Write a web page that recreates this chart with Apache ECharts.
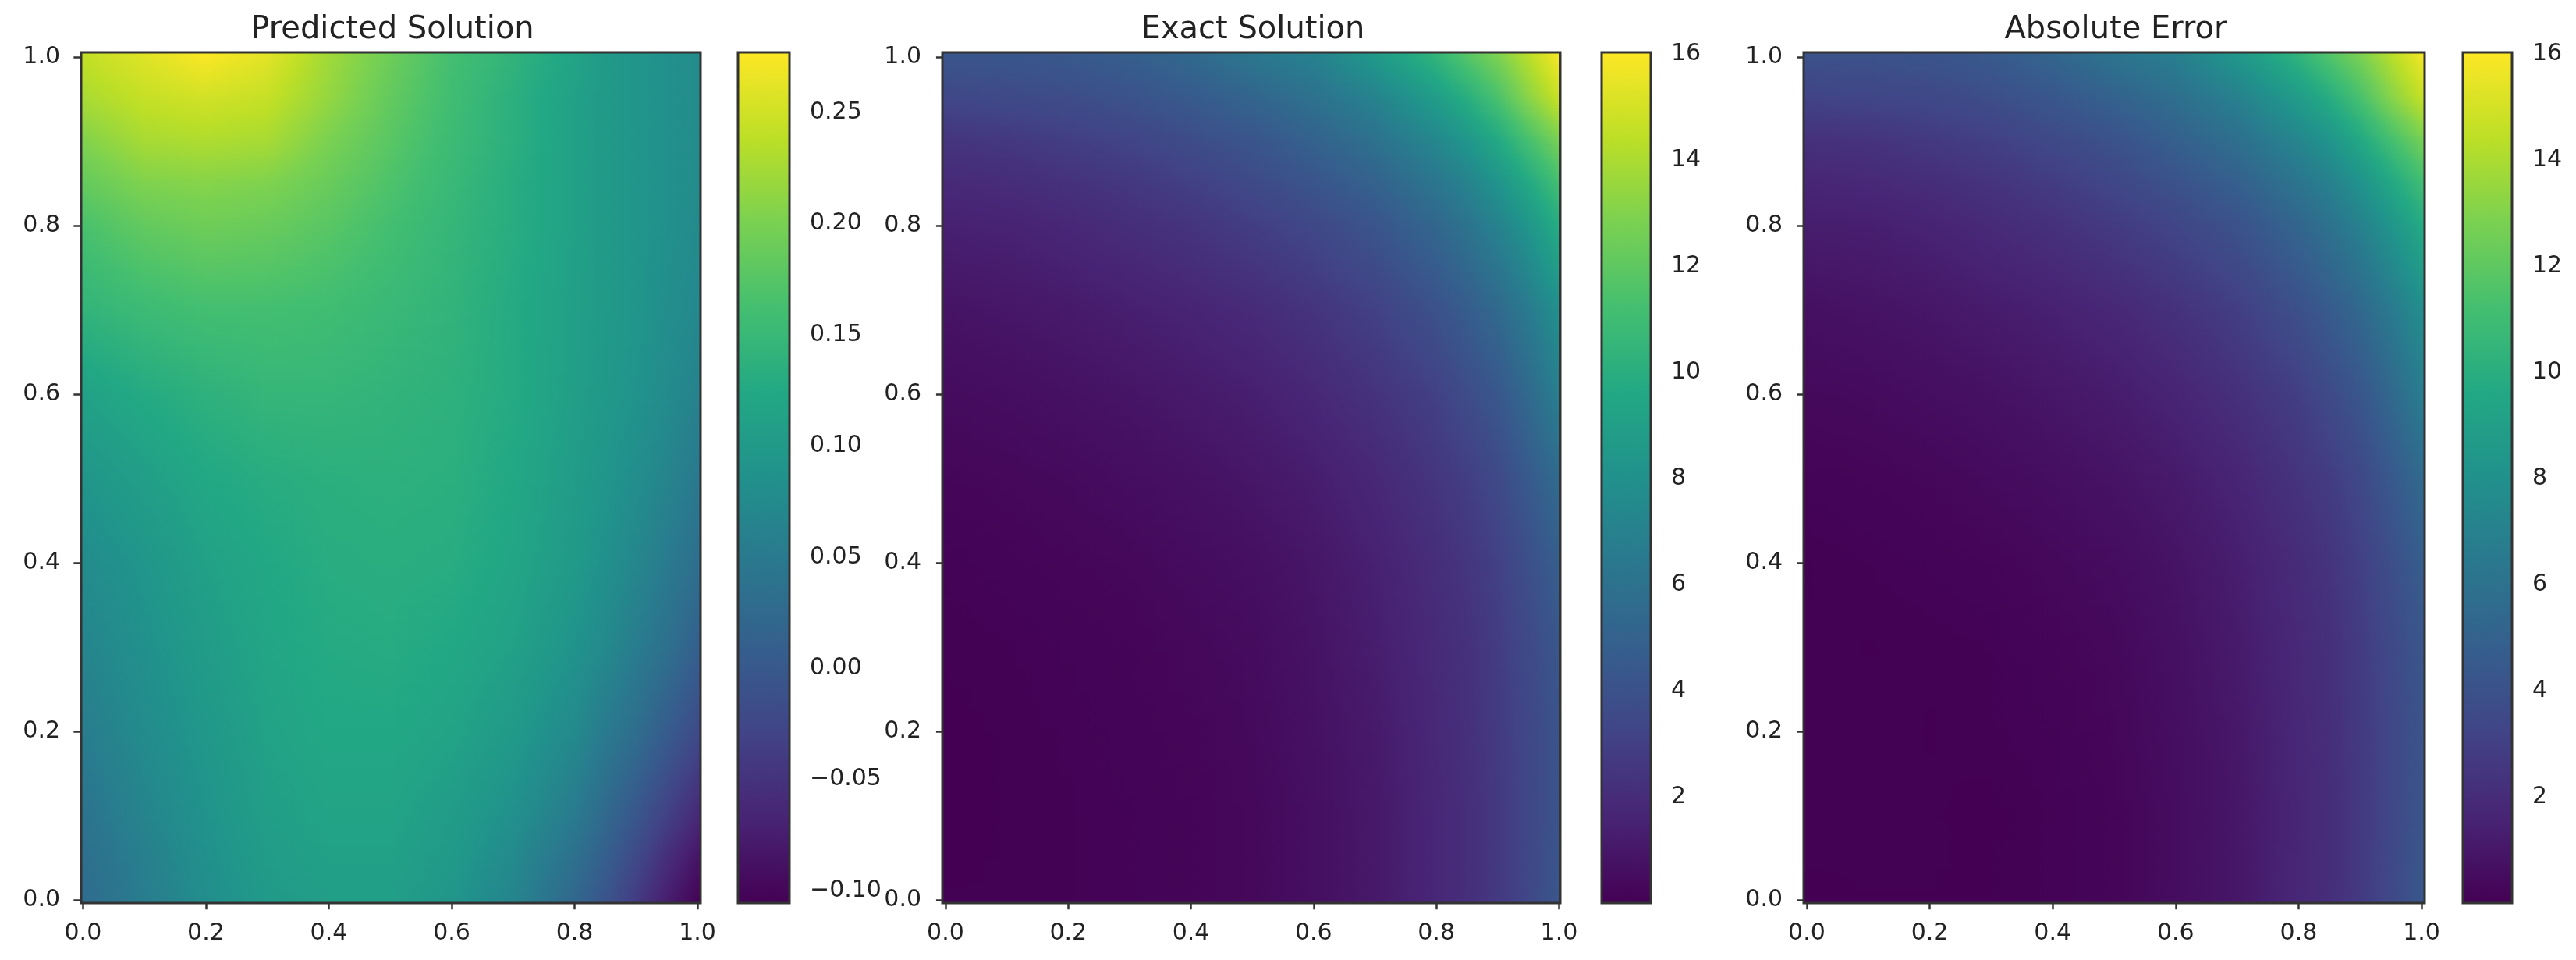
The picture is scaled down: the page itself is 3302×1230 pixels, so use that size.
<!DOCTYPE html>
<html>
<head>
<meta charset="utf-8">
<title>Predicted / Exact / Absolute Error</title>
<script src="https://cdn.jsdelivr.net/npm/echarts@6/dist/echarts.min.js"></script>
<style>
  html, body { margin: 0; padding: 0; background: #fff; }
  #chart { width: 3302px; height: 1230px; }
</style>
</head>
<body>
<div id="chart"></div>
<script>
// sample positions (denser near the steep corners)
const nodesX = [0, 0.1, 0.2, 0.3, 0.4, 0.5, 0.6, 0.7, 0.8, 0.85, 0.9, 0.95, 1];
const nodesY = [1, 0.95, 0.9, 0.85, 0.8, 0.7, 0.6, 0.5, 0.4, 0.3, 0.2, 0.1, 0.05, 0];

const axisTicks = [0, 0.2, 0.4, 0.6, 0.8, 1];
const predictedTicks = [-0.1, -0.05, 0, 0.05, 0.1, 0.15, 0.2, 0.25];
const solutionTicks = [2, 4, 6, 8, 10, 12, 14, 16];

const titles = ["Predicted Solution", "Exact Solution", "Absolute Error"];

const viridis = ["#440154", "#482475", "#414487", "#355f8d", "#2a788e", "#21918c", "#22a884", "#44bf70", "#7ad151", "#bddf26", "#fde725"];

// one row per nodesY, one column per nodesX
const predicted = [
  [0.242, 0.260, 0.277, 0.262, 0.223, 0.192, 0.161, 0.142, 0.116, 0.100, 0.093, 0.085, 0.077],
  [0.226, 0.243, 0.250, 0.243, 0.215, 0.184, 0.158, 0.135, 0.112, 0.100, 0.093, 0.085, 0.077],
  [0.203, 0.226, 0.230, 0.226, 0.200, 0.177, 0.154, 0.135, 0.112, 0.100, 0.093, 0.085, 0.077],
  [0.184, 0.203, 0.207, 0.203, 0.188, 0.169, 0.150, 0.131, 0.112, 0.100, 0.093, 0.085, 0.077],
  [0.165, 0.184, 0.192, 0.188, 0.177, 0.161, 0.146, 0.131, 0.112, 0.100, 0.093, 0.085, 0.075],
  [0.142, 0.154, 0.161, 0.161, 0.158, 0.150, 0.142, 0.127, 0.110, 0.100, 0.093, 0.081, 0.072],
  [0.112, 0.127, 0.138, 0.146, 0.146, 0.142, 0.138, 0.127, 0.108, 0.098, 0.089, 0.077, 0.062],
  [0.093, 0.108, 0.123, 0.131, 0.135, 0.137, 0.135, 0.123, 0.104, 0.093, 0.081, 0.066, 0.047],
  [0.077, 0.093, 0.112, 0.123, 0.131, 0.133, 0.131, 0.119, 0.100, 0.085, 0.070, 0.051, 0.032],
  [0.066, 0.085, 0.104, 0.119, 0.127, 0.129, 0.123, 0.112, 0.089, 0.074, 0.054, 0.035, 0.009],
  [0.054, 0.077, 0.096, 0.114, 0.123, 0.123, 0.116, 0.100, 0.074, 0.051, 0.032, 0.005, -0.022],
  [0.039, 0.066, 0.089, 0.108, 0.116, 0.116, 0.104, 0.085, 0.051, 0.024, -0.003, -0.033, -0.064],
  [0.032, 0.058, 0.085, 0.104, 0.112, 0.112, 0.100, 0.074, 0.035, 0.009, -0.022, -0.056, -0.087],
  [0.028, 0.054, 0.081, 0.100, 0.108, 0.108, 0.093, 0.066, 0.020, -0.007, -0.041, -0.075, -0.106]
];

const exact = [
  [4.32, 4.32, 4.48, 4.8, 5.44, 6.4, 7.04, 8.64, 10.56, 11.84, 12.96, 14.4, 16.0],
  [3.36, 3.52, 3.68, 4.0, 4.48, 5.12, 5.92, 7.04, 8.8, 9.92, 11.36, 13.12, 14.72],
  [2.4, 2.56, 2.88, 3.2, 3.68, 4.16, 4.96, 5.92, 7.36, 8.32, 9.6, 11.2, 12.8],
  [1.84, 2.0, 2.24, 2.56, 2.96, 3.52, 4.16, 4.96, 6.24, 7.04, 8.16, 9.6, 11.2],
  [1.44, 1.52, 1.76, 2.08, 2.4, 2.88, 3.44, 4.16, 5.28, 6.08, 7.04, 8.32, 9.92],
  [0.8, 0.96, 1.12, 1.36, 1.6, 1.92, 2.4, 3.04, 4.0, 4.64, 5.44, 6.56, 8.0],
  [0.48, 0.56, 0.72, 0.88, 1.12, 1.36, 1.76, 2.32, 3.04, 3.68, 4.32, 5.44, 6.88],
  [0.24, 0.32, 0.4, 0.56, 0.72, 0.96, 1.28, 1.76, 2.48, 2.88, 3.52, 4.48, 5.6],
  [0.08, 0.16, 0.24, 0.32, 0.48, 0.64, 0.96, 1.44, 2.08, 2.48, 3.04, 3.84, 4.8],
  [0.03, 0.06, 0.13, 0.19, 0.32, 0.48, 0.8, 1.28, 1.92, 2.24, 2.8, 3.52, 4.32],
  [0, 0.03, 0.08, 0.16, 0.24, 0.4, 0.72, 1.12, 1.84, 2.16, 2.72, 3.36, 4.16],
  [0, 0.03, 0.06, 0.11, 0.19, 0.32, 0.64, 1.04, 1.76, 2.08, 2.64, 3.36, 4.16],
  [0, 0.03, 0.06, 0.11, 0.19, 0.32, 0.64, 1.04, 1.76, 2.08, 2.64, 3.36, 4.24],
  [0.03, 0.03, 0.06, 0.11, 0.19, 0.32, 0.64, 1.04, 1.76, 2.08, 2.64, 3.36, 4.32]
];

const absError = [
  [4.08, 4.06, 4.2, 4.53, 5.22, 6.21, 6.88, 8.5, 10.44, 11.74, 12.87, 14.32, 15.92],
  [3.13, 3.27, 3.42, 3.75, 4.27, 4.94, 5.76, 6.91, 8.69, 9.82, 11.27, 13.04, 14.64],
  [2.2, 2.33, 2.65, 2.97, 3.48, 3.98, 4.81, 5.79, 7.25, 8.22, 9.51, 11.12, 12.72],
  [1.66, 1.8, 2.03, 2.36, 2.77, 3.35, 4.01, 4.83, 6.13, 6.94, 8.07, 9.52, 11.12],
  [1.28, 1.34, 1.57, 1.89, 2.22, 2.72, 3.29, 4.03, 5.17, 5.98, 6.95, 8.24, 9.85],
  [0.66, 0.81, 0.96, 1.2, 1.44, 1.77, 2.26, 2.91, 3.89, 4.54, 5.35, 6.48, 7.93],
  [0.37, 0.43, 0.58, 0.73, 0.97, 1.22, 1.62, 2.19, 2.93, 3.58, 4.23, 5.36, 6.82],
  [0.15, 0.21, 0.28, 0.43, 0.59, 0.82, 1.15, 1.64, 2.38, 2.79, 3.44, 4.41, 5.55],
  [0.01, 0.07, 0.13, 0.2, 0.35, 0.51, 0.83, 1.32, 1.98, 2.4, 2.97, 3.79, 4.77],
  [0.04, 0.02, 0.03, 0.07, 0.19, 0.35, 0.68, 1.17, 1.83, 2.17, 2.75, 3.49, 4.31],
  [0.05, 0.05, 0.02, 0.05, 0.12, 0.28, 0.6, 1.02, 1.77, 2.11, 2.69, 3.36, 4.18],
  [0.04, 0.04, 0.03, 0, 0.07, 0.2, 0.54, 0.96, 1.71, 2.06, 2.64, 3.39, 4.22],
  [0.03, 0.03, 0.03, 0.01, 0.08, 0.21, 0.54, 0.97, 1.73, 2.07, 2.66, 3.42, 4.33],
  [0, 0.02, 0.02, 0.01, 0.08, 0.21, 0.55, 0.97, 1.74, 2.09, 2.68, 3.44, 4.43]
];

const panels = [
  { z: predicted, vmin: -0.1056, vmax: 0.277, ticks: predictedTicks, digits: 2, left: 104, right: 898, xMin: -0.003, xMax: 1.005, barLeft: 946, barRight: 1012 },
  { z: exact, vmin: 0, vmax: 16.03, ticks: solutionTicks, digits: 0, left: 1208, right: 2000, xMin: -0.005, xMax: 1.002, barLeft: 2053, barRight: 2116 },
  { z: absError, vmin: 0, vmax: 16.03, ticks: solutionTicks, digits: 0, left: 2312, right: 3108, xMin: -0.005, xMax: 1.005, barLeft: 3157, barRight: 3220 }
];

const plotTop = 67;
const plotBottom = 1157;
const yMin = -0.0035;
const yMax = 1.0058;

const textColor = "#222";
const lineColor = "#333";
const fontFamily = "DejaVu Sans";

function colorOf(v, vmin, vmax) {
  const t = Math.max(0, Math.min(1, (v - vmin) / (vmax - vmin)));
  return echarts.color.lerp(t, viridis);
}

// every cell is painted as thin strips, blended between its four read corners,
// so the picture stays smooth like the original image
function renderCell(panel) {
  const nx = nodesX.length;
  const ny = nodesY.length;
  return function (params, api) {
    const col = params.dataIndex % nx;
    const row = Math.floor(params.dataIndex / nx);
    if (col === nx - 1 || row === ny - 1) return null;

    const xa = col === 0 ? panel.xMin : nodesX[col];
    const xb = col === nx - 2 ? panel.xMax : nodesX[col + 1];
    const ya = row === 0 ? yMax : nodesY[row];
    const yb = row === ny - 2 ? yMin : nodesY[row + 1];
    const p0 = api.coord([xa, ya]);
    const p1 = api.coord([xb, yb]);
    const left = Math.round(p0[0]);
    const right = Math.round(p1[0]);
    const top = p0[1];
    const h = p1[1] - p0[1];
    const strips = Math.ceil(h / 4);

    const z00 = panel.z[row][col], z10 = panel.z[row][col + 1];
    const z01 = panel.z[row + 1][col], z11 = panel.z[row + 1][col + 1];

    const children = [];
    for (let s = 0; s < strips; s++) {
      const f = (s + 0.5) / strips;
      const zl = z00 + (z01 - z00) * f;
      const zr = z10 + (z11 - z10) * f;
      const stops = [0, 0.25, 0.5, 0.75, 1].map(function (o) {
        return { offset: o, color: colorOf(zl + (zr - zl) * o, panel.vmin, panel.vmax) };
      });
      const y0 = Math.round(top + (h * s) / strips);
      const y1 = Math.round(top + (h * (s + 1)) / strips);
      children.push({
        type: "rect",
        shape: { x: left, y: y0, width: right - left, height: y1 - y0 },
        style: { fill: new echarts.graphic.LinearGradient(0, 0, 1, 0, stops) },
        silent: true
      });
    }
    return { type: "group", children: children };
  };
}

function renderBar(panel) {
  return function (params, api) {
    if (params.dataIndex !== 0) return null;
    const p0 = api.coord([0, panel.vmax]);
    const p1 = api.coord([1, panel.vmin]);
    const stops = viridis.map(function (c, i) {
      return { offset: i / (viridis.length - 1), color: c };
    });
    return {
      type: "rect",
      shape: { x: p0[0], y: p0[1], width: p1[0] - p0[0], height: p1[1] - p0[1] },
      style: { fill: new echarts.graphic.LinearGradient(0, 1, 0, 0, stops) },
      silent: true
    };
  };
}

function renderFrame(params, api) {
  if (params.dataIndex !== 0) return null;
  const a = api.coord([api.value(0), api.value(1)]);
  const b = api.coord([api.value(2), api.value(3)]);
  return {
    type: "rect",
    shape: { x: a[0], y: b[1], width: b[0] - a[0], height: a[1] - b[1] },
    style: { fill: "none", stroke: lineColor, lineWidth: 3 },
    silent: true
  };
}

const option = {
  animation: false,
  backgroundColor: "#fff",
  title: [],
  grid: [],
  xAxis: [],
  yAxis: [],
  series: []
};

const tickStyle = { show: true, length: 12, lineStyle: { color: lineColor, width: 2.5 } };

panels.forEach(function (p, n) {
  const plotGrid = n * 2;
  const barGrid = n * 2 + 1;

  option.title.push({
    text: titles[n],
    left: (p.left + p.right) / 2 - 3,
    top: 14,
    textAlign: "center",
    textStyle: { color: textColor, fontFamily: fontFamily, fontSize: 40, fontWeight: "normal" }
  });

  option.grid.push({ left: p.left, top: plotTop, width: p.right - p.left, height: plotBottom - plotTop });
  option.grid.push({ left: p.barLeft, top: plotTop, width: p.barRight - p.barLeft, height: plotBottom - plotTop });

  option.xAxis.push({
    type: "value",
    gridIndex: plotGrid,
    min: p.xMin,
    max: p.xMax,
    splitLine: { show: false },
    axisLine: { show: false },
    axisTick: Object.assign({ customValues: axisTicks }, tickStyle),
    axisLabel: {
      customValues: axisTicks,
      margin: 24,
      color: textColor,
      fontFamily: fontFamily,
      fontSize: 30,
      formatter: function (v) { return v.toFixed(1); }
    }
  });
  option.yAxis.push({
    type: "value",
    gridIndex: plotGrid,
    min: yMin,
    max: yMax,
    splitLine: { show: false },
    axisLine: { show: false },
    axisTick: Object.assign({ customValues: axisTicks }, tickStyle),
    axisLabel: {
      customValues: axisTicks,
      margin: 27,
      color: textColor,
      fontFamily: fontFamily,
      fontSize: 30,
      formatter: function (v) { return v.toFixed(1); }
    }
  });

  option.xAxis.push({ type: "value", gridIndex: barGrid, min: 0, max: 1, show: false });
  option.yAxis.push({
    type: "value",
    gridIndex: barGrid,
    position: "right",
    min: p.vmin,
    max: p.vmax,
    splitLine: { show: false },
    axisLine: { show: false },
    axisTick: Object.assign({ customValues: p.ticks }, tickStyle),
    axisLabel: {
      customValues: p.ticks,
      margin: 26,
      color: textColor,
      fontFamily: fontFamily,
      fontSize: 30,
      formatter: function (v) { return v.toFixed(p.digits).replace("-", "\u2212"); }
    }
  });

  const cells = [];
  nodesY.forEach(function (y, r) {
    nodesX.forEach(function (x, c) {
      cells.push([x, y, p.z[r][c]]);
    });
  });

  option.series.push({
    name: titles[n],
    type: "custom",
    xAxisIndex: plotGrid,
    yAxisIndex: plotGrid,
    data: cells,
    encode: { x: 0, y: 1 },
    renderItem: renderCell(p),
    clip: true,
    progressive: 0,
    z: 2
  });
  option.series.push({
    type: "custom",
    xAxisIndex: barGrid,
    yAxisIndex: barGrid,
    data: [[0, p.vmin], [1, p.vmax]],
    encode: { x: 0, y: 1 },
    renderItem: renderBar(p),
    z: 2
  });
  option.series.push({
    type: "custom",
    xAxisIndex: plotGrid,
    yAxisIndex: plotGrid,
    data: [[p.xMin, yMin, p.xMax, yMax]],
    encode: { x: [0, 2], y: [1, 3] },
    renderItem: renderFrame,
    clip: false,
    z: 5
  });
  option.series.push({
    type: "custom",
    xAxisIndex: barGrid,
    yAxisIndex: barGrid,
    data: [[0, p.vmin, 1, p.vmax]],
    encode: { x: [0, 2], y: [1, 3] },
    renderItem: renderFrame,
    clip: false,
    z: 5
  });
});

const myChart = echarts.init(document.getElementById("chart"), null, { renderer: "canvas" });
myChart.setOption(option);
</script>
</body>
</html>
